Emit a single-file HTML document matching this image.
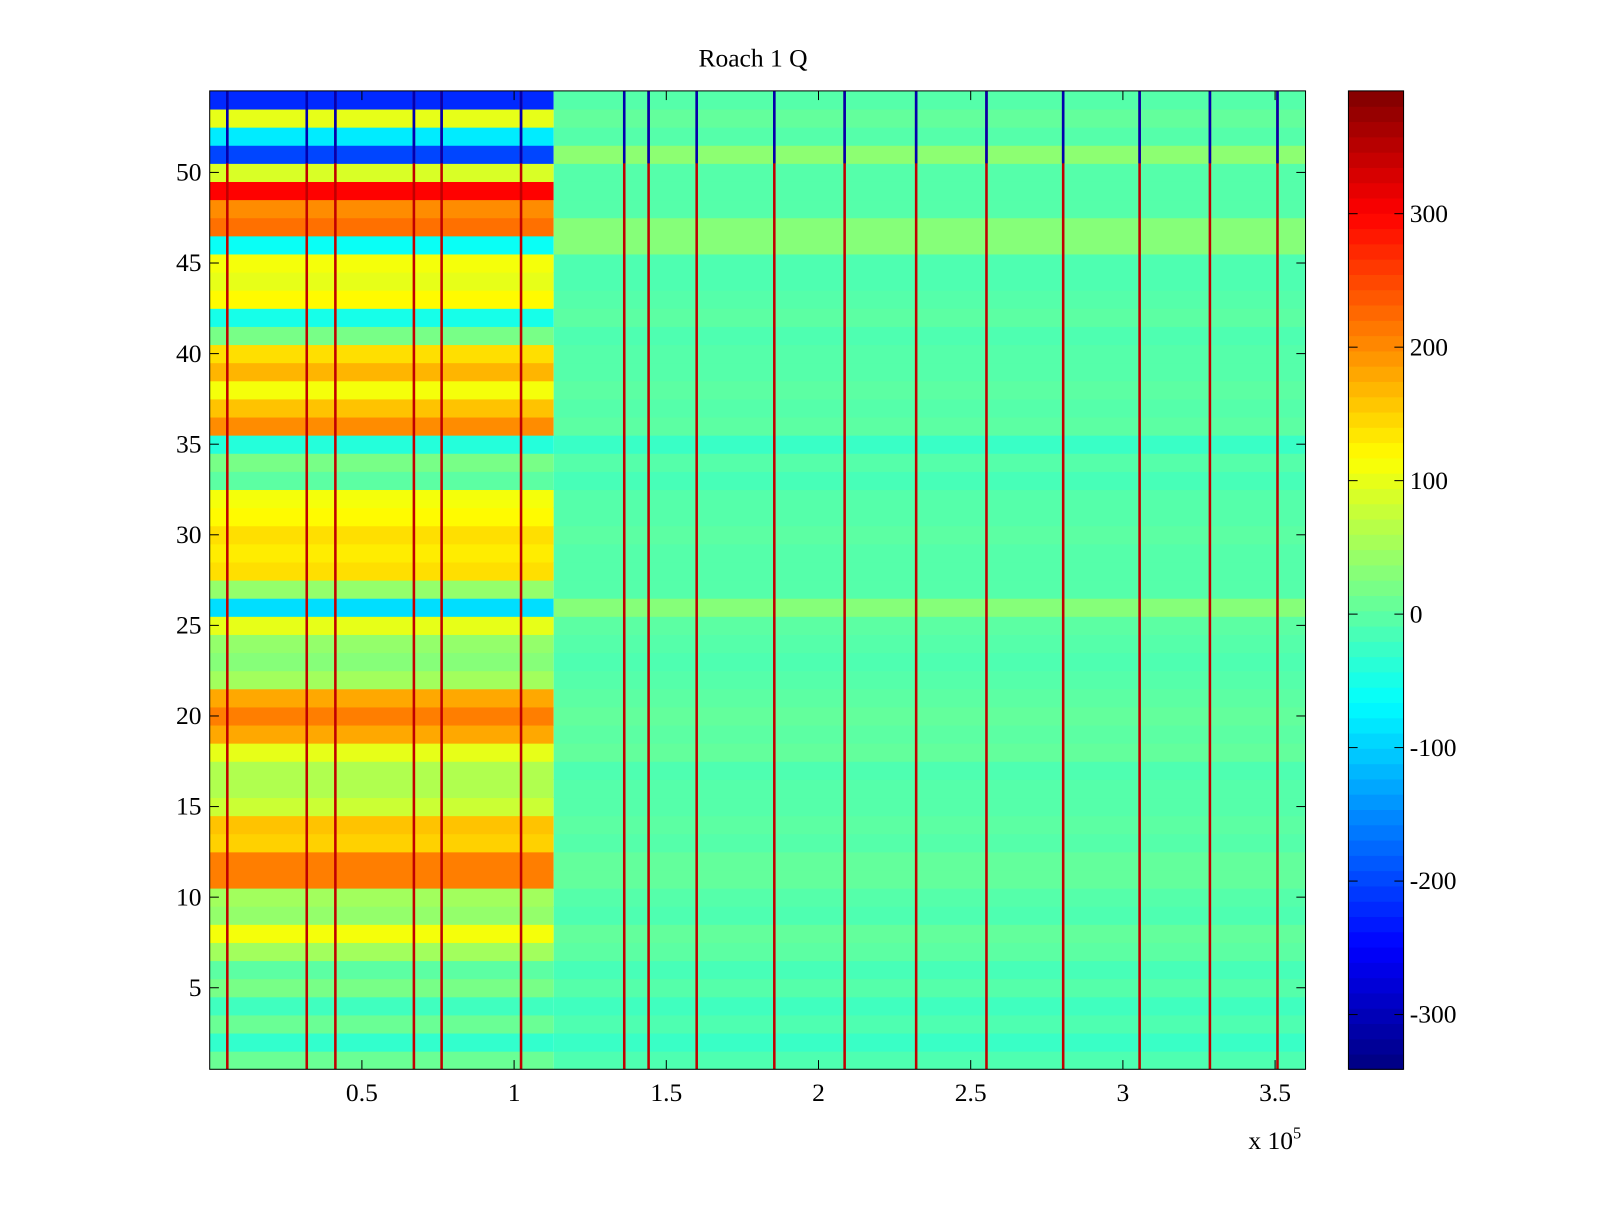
<!DOCTYPE html>
<html><head><meta charset="utf-8"><style>
body{margin:0;background:#fff;}
svg text{font-family:"Liberation Serif",serif;font-size:25px;fill:#000;}
</style></head><body>
<svg id="chart" width="1600" height="1200" viewBox="0 0 1566 1175" xmlns="http://www.w3.org/2000/svg">
<rect width="1566" height="1175" fill="#fff"/>
<g id="cells"></g>
<g id="vlines"></g>
<rect x="205" y="89" width="1073" height="958" fill="none" stroke="#000" stroke-width="1"/>
<g id="axes"></g>
<g id="cbar"></g>
<text x="737" y="65" text-anchor="middle">Roach 1 Q</text>
<text x="1222" y="1125">x 10<tspan dy="-10" font-size="16">5</tspan></text>
</svg>
<script>
// row values (rows 1..54, bottom to top)
const leftRowValues=[10,-30,10,-20,20,0,50,110,40,50,210,210,150,160,80,60,60,100,180,210,180,50,30,40,100,-90,40,140,130,140,120,110,0,20,-40,200,160,110,170,140,20,-50,120,100,110,-60,220,200,300,90,-200,-80,100,-220];
const rightRowValues=[-10,-25,-10,-20,-5,-15,0,5,-10,-5,5,5,-5,0,-5,-5,-10,5,0,5,0,-5,-10,-5,0,30,-5,-5,-5,0,-5,-5,-15,-5,-25,0,-5,0,-5,-5,-10,0,-5,-10,-10,30,30,-5,-5,-5,35,-5,5,-5];
const leftEdge=1.13;      // x (1e5) where the high-amplitude region ends
const xMin=0, xMax=3.6, yMin=0.5, yMax=54.5, cMin=-341, cMax=392;
const stripeX=[0.057,0.318,0.412,0.670,0.761,1.022,1.361,1.441,1.599,1.854,2.085,2.320,2.551,2.803,3.054,3.285,3.507];
const xTicks=[0.5,1,1.5,2,2.5,3,3.5];
const xTickLabels=["0.5","1","1.5","2","2.5","3","3.5"];
const yTicks=[5,10,15,20,25,30,35,40,45,50];
const cTicks=[-300,-200,-100,0,100,200,300];

const L=205,R=1278,T=89,B=1047,CL=1320,CR=1374;
const sx=v=>L+(v-xMin)/(xMax-xMin)*(R-L);
const sy=v=>B-(v-yMin)/(yMax-yMin)*(B-T);
const sc=v=>B-(v-cMin)/(cMax-cMin)*(B-T);
function jet(v){const t=Math.max(0,Math.min(1,(v-cMin)/(cMax-cMin)));
 const c=x=>Math.round(255*Math.max(0,Math.min(1,1.5-Math.abs(4*t-x))));
 return `rgb(${c(3)},${c(2)},${c(1)})`;}
const NS="http://www.w3.org/2000/svg";
function mk(tag,attrs,parent){const e=document.createElementNS(NS,tag);for(const k in attrs)e.setAttribute(k,attrs[k]);parent.appendChild(e);return e;}
const cells=document.getElementById('cells');
leftRowValues.forEach((v,i)=>{
 const y0=sy(i+1.5),y1=sy(i+0.5);
 const a=mk('rect',{x:sx(0),y:y0,width:sx(leftEdge)-sx(0),height:y1-y0+0.5,fill:jet(v)},cells);
 
 
 const b=mk('rect',{x:sx(leftEdge),y:y0,width:sx(xMax)-sx(leftEdge),height:y1-y0+0.5,fill:jet(rightRowValues[i])},cells);
 
 
});
const vl=document.getElementById('vlines');
stripeX.forEach((x,i)=>{
 const l=mk('rect',{x:sx(x)-1,y:T,width:2.5,height:B-T,fill:'#c00000'},vl);
 
 
 const t=mk('rect',{x:sx(x)-1,y:T,width:2.5,height:sy(50.5)-T,fill:'#0000b0'},vl);
 
 
});
const ax=document.getElementById('axes');
xTicks.forEach((v,i)=>{
 const x=sx(v);
 mk('line',{x1:x,y1:B,x2:x,y2:B-9,stroke:'#000'},ax);
 mk('line',{x1:x,y1:T,x2:x,y2:T+9,stroke:'#000'},ax);
 const t=mk('text',{x:x,y:B+31,'text-anchor':'middle'},ax);t.textContent=xTickLabels[i];
 
 
});
yTicks.forEach(v=>{
 const y=sy(v);
 mk('line',{x1:L,y1:y,x2:L+9,y2:y,stroke:'#000'},ax);
 mk('line',{x1:R,y1:y,x2:R-9,y2:y,stroke:'#000'},ax);
 const t=mk('text',{x:L-8,y:y+8,'text-anchor':'end'},ax);t.textContent=v;
 
 
});
const cb=document.getElementById('cbar');
const N=64;
for(let k=0;k<N;k++){
 const v0=cMin+(cMax-cMin)*k/N,v1=cMin+(cMax-cMin)*(k+1)/N;
 const r=mk('rect',{x:CL,y:sc(v1),width:CR-CL,height:sc(v0)-sc(v1)+0.6,fill:jet((v0+v1)/2)},cb);
 
 
}
mk('rect',{x:CL,y:T,width:CR-CL,height:B-T,fill:'none',stroke:'#000'},cb);
cTicks.forEach(v=>{
 const y=sc(v);
 mk('line',{x1:CL,y1:y,x2:CL+9,y2:y,stroke:'#000'},cb);
 mk('line',{x1:CR,y1:y,x2:CR-9,y2:y,stroke:'#000'},cb);
 const t=mk('text',{x:CR+6,y:y+8},cb);t.textContent=v;
 
 
});
</script>
</body></html>
